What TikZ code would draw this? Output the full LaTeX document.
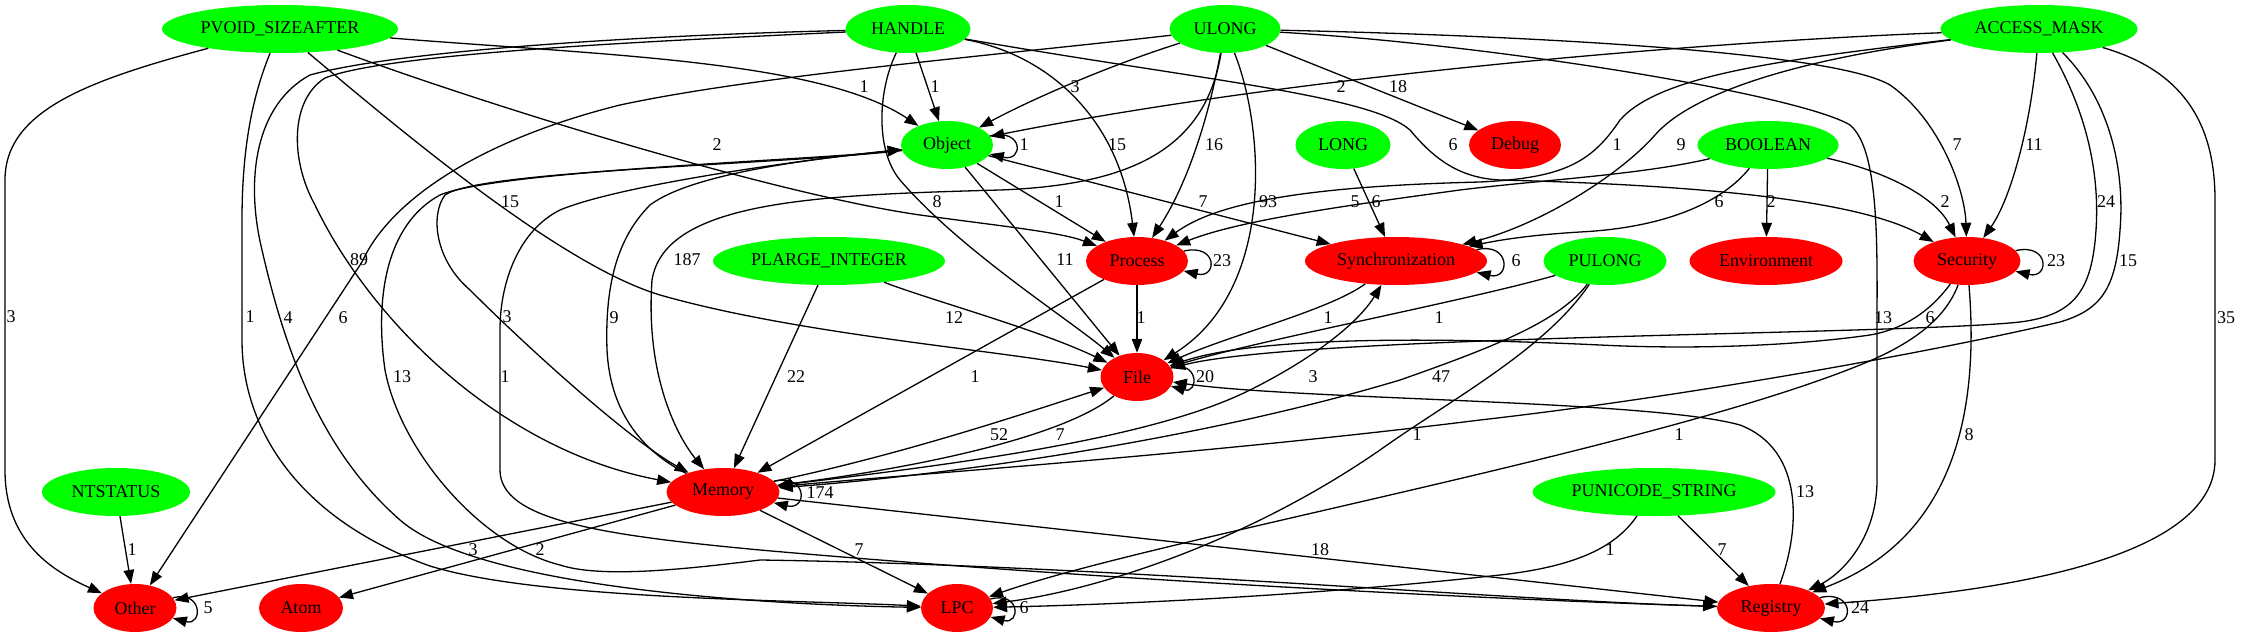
\documentclass[tikz,border=0pt]{standalone}
\usepackage{fontspec}
\setmainfont{Liberation Serif}
\usetikzlibrary{shapes.geometric,arrows.meta}
\definecolor{gcol}{RGB}{0,255,0}
\definecolor{rcol}{RGB}{255,0,0}
\newcommand{\lbfont}{\fontsize{18}{20}\selectfont}
\begin{document}
\begin{tikzpicture}[x=1pt,y=-1pt,
  base/.style={ellipse, inner sep=0pt, minimum height=48pt, font=\lbfont},
  tnode/.style={base, fill=gcol},
  cnode/.style={base, fill=rcol},
  e/.style={-{Triangle[length=14pt,width=10.5pt]}, line width=1.3pt},
  lbl/.style={font=\lbfont, inner sep=0pt}]
\useasboundingbox (0,0) rectangle (2245,639);
% nodes
\node[tnode, minimum width=236pt] (PV) at (280,29) {PVOID\_SIZEAFTER};
\node[tnode, minimum width=125pt] (HA) at (908,29) {HANDLE};
\node[tnode, minimum width=111pt] (UL) at (1225,29) {ULONG};
\node[tnode, minimum width=197pt] (AM) at (2039,29) {ACCESS\_MASK};
\node[tnode, minimum width=92pt] (OB) at (947,145) {Object};
\node[tnode, minimum width=95pt] (LO) at (1343,145) {LONG};
\node[cnode, minimum width=92pt] (DE) at (1515,145) {Debug};
\node[tnode, minimum width=141pt] (BO) at (1768,145) {BOOLEAN};
\node[tnode, minimum width=232pt] (PL) at (829,261) {PLARGE\_INTEGER};
\node[cnode, minimum width=102pt] (PR) at (1137,261) {Process};
\node[cnode, minimum width=182pt] (SY) at (1396,261) {Synchronization};
\node[tnode, minimum width=123pt] (PU) at (1605,261) {PULONG};
\node[cnode, minimum width=153pt] (EN) at (1766,261) {Environment};
\node[cnode, minimum width=107pt] (SE) at (1967,261) {Security};
\node[cnode, minimum width=73pt] (FI) at (1137,377) {File};
\node[tnode, minimum width=148pt] (NT) at (116,492) {NTSTATUS};
\node[cnode, minimum width=113pt] (ME) at (723,492) {Memory};
\node[tnode, minimum width=243pt] (PS) at (1654,492) {PUNICODE\_STRING};
\node[cnode, minimum width=83pt] (OT) at (135,608) {Other};
\node[cnode, minimum width=84pt] (AT) at (301,608) {Atom};
\node[cnode, minimum width=72pt] (LP) at (957,608) {LPC};
\node[cnode, minimum width=108pt] (RE) at (1771,608) {Registry};
% PVOID_SIZEAFTER
\draw[e] (PV) .. controls (90,80) and (5,110) .. (5,180) -- (5,470) .. controls (5,540) and (50,570) .. (OT);
\draw[e] (PV) .. controls (255,90) and (242,140) .. (242,220) -- (242,340) .. controls (242,430) and (300,520) .. (430,566) .. controls (540,600) and (800,600) .. (LP);
\draw[e] (PV) .. controls (600,55) and (820,60) .. (OB);
\draw[e] (PV) .. controls (500,110) and (780,195) .. (920,215) .. controls (1000,226) and (1060,232) .. (PR);
\draw[e] (PV) .. controls (400,130) and (560,265) .. (660,295) .. controls (800,335) and (1000,350) .. (FI);
% HANDLE
\draw[e] (HA) .. controls (650,35) and (400,50) .. (310,75) .. controls (255,105) and (245,180) .. (262,250) .. controls (285,350) and (320,450) .. (400,520) .. controls (480,590) and (780,605) .. (LP);
\draw[e] (HA) .. controls (680,40) and (390,52) .. (325,78) .. controls (290,100) and (290,160) .. (315,205) .. controls (370,320) and (500,450) .. (ME);
\draw[e] (HA) -- (OB);
\draw[e] (HA) .. controls (1050,55) and (1120,120) .. (PR);
\draw[e] (HA) .. controls (878,90) and (875,150) .. (900,180) .. controls (960,250) and (1070,320) .. (FI);
\draw[e] (HA) .. controls (1200,80) and (1370,95) .. (1410,130) .. controls (1435,160) and (1460,178) .. (1500,180) .. controls (1700,185) and (1860,200) .. (SE);
% ULONG
\draw[e] (UL) .. controls (1110,65) and (1030,100) .. (OB);
\draw[e] (UL) .. controls (1210,110) and (1190,180) .. (PR);
\draw[e] (UL) .. controls (1265,130) and (1275,290) .. (FI);
\draw[e] (UL) -- (DE);
\draw[e] (UL) .. controls (1500,35) and (1830,50) .. (1890,85) .. controls (1940,120) and (1965,190) .. (SE);
\draw[e] (UL) .. controls (1500,45) and (1800,95) .. (1850,125) .. controls (1880,150) and (1877,250) .. (1877,330) -- (1877,480) .. controls (1877,540) and (1840,575) .. (RE);
\draw[e] (UL) .. controls (1205,150) and (1130,185) .. (1000,190) .. controls (820,195) and (665,200) .. (652,280) .. controls (645,380) and (680,440) .. (ME);
\draw[e] (UL) .. controls (1000,55) and (760,75) .. (620,105) .. controls (480,140) and (390,200) .. (362,262) -- (OT);
% ACCESS_MASK
\draw[e] (AM) .. controls (1700,42) and (1300,75) .. (OB);
\draw[e] (AM) .. controls (1780,60) and (1660,75) .. (1620,120) .. controls (1590,165) and (1560,178) .. (1480,182) .. controls (1320,186) and (1220,200) .. (PR);
\draw[e] (AM) .. controls (1790,60) and (1690,95) .. (1655,135) .. controls (1620,175) and (1540,225) .. (SY);
\draw[e] (AM) .. controls (2030,130) and (2010,200) .. (SE);
\draw[e] (AM) .. controls (2085,110) and (2100,170) .. (2096,230) .. controls (2092,290) and (2075,315) .. (2020,322) .. controls (1900,335) and (1300,335) .. (FI);
\draw[e] (AM) .. controls (2110,100) and (2125,170) .. (2120,230) .. controls (2116,290) and (2100,310) .. (2060,322) .. controls (1950,348) and (1700,395) .. (1480,420) .. controls (1200,455) and (900,475) .. (ME);
\draw[e] (AM) .. controls (2180,70) and (2215,120) .. (2215,200) -- (2215,460) .. controls (2215,570) and (1950,595) .. (RE);
% LONG, BOOLEAN
\draw[e] (LO) -- (SY);
\draw[e] (BO) .. controls (1640,175) and (1540,180) .. (1460,190) .. controls (1350,205) and (1240,220) .. (PR);
\draw[e] (BO) .. controls (1720,205) and (1660,228) .. (1580,232) .. controls (1530,235) and (1500,240) .. (SY);
\draw[e] (BO) -- (EN);
\draw[e] (BO) .. controls (1880,170) and (1935,195) .. (SE);
% PLARGE_INTEGER, PULONG, NTSTATUS, PUNICODE_STRING
\draw[e] (PL) .. controls (930,300) and (1040,330) .. (FI);
\draw[e] (PL) -- (ME);
\draw[e] (PU) .. controls (1470,300) and (1260,340) .. (FI);
\draw[e] (PU) .. controls (1560,320) and (1500,345) .. (1400,380) .. controls (1200,440) and (950,475) .. (ME);
\draw[e] (PU) .. controls (1545,350) and (1450,400) .. (1380,450) .. controls (1250,540) and (1100,590) .. (LP);
\draw[e] (NT) -- (OT);
\draw[e] (PS) .. controls (1620,540) and (1590,565) .. (1500,575) .. controls (1300,597) and (1100,605) .. (LP);
\draw[e] (PS) -- (RE);
% Object
\draw[e] (OB.12) .. controls +(34,-8) and +(34,8) .. (OB.-12);
\draw[e] (OB) -- (PR);
\draw[e] (OB) -- (FI);
\draw[e] (OB) -- (SY);
\draw[e] (OB) .. controls (820,160) and (500,170) .. (440,195) .. controls (385,225) and (375,300) .. (385,370) .. controls (400,450) and (480,545) .. (560,565) .. controls (600,578) and (680,570) .. (760,560) .. controls (1100,565) and (1500,600) .. (RE);
\draw[e] (OB) .. controls (780,165) and (480,170) .. (445,195) .. controls (430,215) and (435,260) .. (470,290) .. controls (530,350) and (630,440) .. (ME);
\draw[e] (ME) .. controls (640,450) and (610,410) .. (607,350) .. controls (605,290) and (615,240) .. (650,205) .. controls (690,175) and (800,160) .. (OB);
\draw[e] (RE) .. controls (1500,600) and (1100,580) .. (760,550) .. controls (600,535) and (500,520) .. (500,470) -- (500,330) .. controls (500,280) and (520,230) .. (560,210) .. controls (620,185) and (800,160) .. (OB);
% Process, Synchronization, Security
\draw[e] (PR.12) .. controls +(34,-8) and +(34,8) .. (PR.-12);
\draw[e] (PR) -- (FI);
\draw[e] (PR) -- (ME);
\draw[e] (SY.8) .. controls +(34,-8) and +(34,8) .. (SY.-8);
\draw[e] (SY) .. controls (1330,310) and (1230,335) .. (FI);
\draw[e] (SE.12) .. controls +(34,-8) and +(34,8) .. (SE.-12);
\draw[e] (SE) .. controls (1935,305) and (1910,328) .. (1870,335) .. controls (1800,345) and (1700,350) .. (1600,345) .. controls (1450,338) and (1260,335) .. (FI);
\draw[e] (SE) .. controls (1945,320) and (1910,345) .. (1860,365) .. controls (1650,450) and (1150,540) .. (LP);
\draw[e] (SE) .. controls (1980,420) and (1950,540) .. (RE);
% File, Memory, Registry, Other, LPC
\draw[e] (FI.15) .. controls +(28,-8) and +(28,8) .. (FI.-15);
\draw[e] (FI) .. controls (1060,440) and (900,470) .. (ME);
\draw[e] (ME.12) .. controls +(34,-8) and +(34,8) .. (ME.-12);
\draw[e] (ME) .. controls (900,455) and (1020,415) .. (FI);
\draw[e] (ME) .. controls (950,465) and (1150,440) .. (1250,390) .. controls (1320,355) and (1360,320) .. (SY);
\draw[e] (ME) -- (LP);
\draw[e] (ME) -- (RE);
\draw[e] (ME) -- (OT);
\draw[e] (ME) -- (AT);
\draw[e] (RE.12) .. controls +(34,-8) and +(34,8) .. (RE.-12);
\draw[e] (RE) .. controls (1800,530) and (1805,450) .. (1740,425) .. controls (1650,400) and (1300,400) .. (FI);
\draw[e] (OT.15) .. controls +(30,-8) and +(30,8) .. (OT.-15);
\draw[e] (LP.15) .. controls +(30,-8) and +(30,8) .. (LP.-15);
% labels
\node[lbl] (b1) at (11,317) {3};
\node[lbl] (b2) at (250,317) {1};
\node[lbl] (b3) at (288,318) {4};
\node[lbl] (b4) at (343,318) {6};
\node[lbl] (b5) at (359,260) {89};
\node[lbl] (b6) at (402,377) {13};
\node[lbl] (b7) at (505,377) {1};
\node[lbl] (b8) at (507,317) {3};
\node[lbl] (b9) at (614,318) {9};
\node[lbl] (b10) at (687,260) {187};
\node[lbl] (b11) at (510,202) {15};
\node[lbl] (b12) at (717,145) {2};
\node[lbl] (b13) at (864,87) {1};
\node[lbl] (b14) at (935,87) {1};
\node[lbl] (b15) at (1075,87) {3};
\node[lbl] (b16) at (1117,145) {15};
\node[lbl] (b17) at (1214,145) {16};
\node[lbl] (b18) at (1024,145) {1};
\node[lbl] (b19) at (937,202) {8};
\node[lbl] (b20) at (1059,202) {1};
\node[lbl] (b21) at (1203,202) {7};
\node[lbl] (b22) at (1268,202) {93};
\node[lbl] (b23) at (1065,260) {11};
\node[lbl] (b24) at (1222,261) {23};
\node[lbl] (b25) at (1341,87) {2};
\node[lbl] (b26) at (1398,87) {18};
\node[lbl] (b27) at (1453,145) {6};
\node[lbl] (b28) at (1355,202) {5};
\node[lbl] (b29) at (1376,202) {6};
\node[lbl] (b30) at (1516,261) {6};
\node[lbl] (b31) at (1617,145) {1};
\node[lbl] (b32) at (1681,145) {9};
\node[lbl] (b33) at (1957,145) {7};
\node[lbl] (b34) at (2034,145) {11};
\node[lbl] (b35) at (1719,202) {6};
\node[lbl] (b36) at (1771,202) {2};
\node[lbl] (b37) at (1945,202) {2};
\node[lbl] (b38) at (2106,202) {24};
\node[lbl] (b39) at (2056,261) {23};
\node[lbl] (b40) at (2128,261) {15};
\node[lbl] (b41) at (1883,318) {13};
\node[lbl] (b42) at (1930,318) {6};
\node[lbl] (b43) at (2226,318) {35};
\node[lbl] (b44) at (1679,435) {1};
\node[lbl] (b45) at (1969,435) {8};
\node[lbl] (b46) at (1610,550) {1};
\node[lbl] (b47) at (1722,550) {7};
\node[lbl] (b48) at (1805,492) {13};
\node[lbl] (b49) at (1860,608) {24};
\node[lbl] (b50) at (954,318) {12};
\node[lbl] (b51) at (1141,318) {1};
\node[lbl] (b52) at (1328,318) {1};
\node[lbl] (b53) at (1439,318) {1};
\node[lbl] (b54) at (796,377) {22};
\node[lbl] (b55) at (975,377) {1};
\node[lbl] (b56) at (1205,377) {20};
\node[lbl] (b57) at (1313,377) {3};
\node[lbl] (b58) at (1441,377) {47};
\node[lbl] (b59) at (999,435) {52};
\node[lbl] (b60) at (1060,435) {7};
\node[lbl] (b61) at (1417,435) {1};
\node[lbl] (b62) at (820,493) {174};
\node[lbl] (b63) at (859,550) {7};
\node[lbl] (b64) at (1320,550) {18};
\node[lbl] (b65) at (473,550) {3};
\node[lbl] (b66) at (540,550) {2};
\node[lbl] (b67) at (132,550) {1};
\node[lbl] (b68) at (208,608) {5};
\node[lbl] (b69) at (1024,608) {6};
\end{tikzpicture}
\end{document}
